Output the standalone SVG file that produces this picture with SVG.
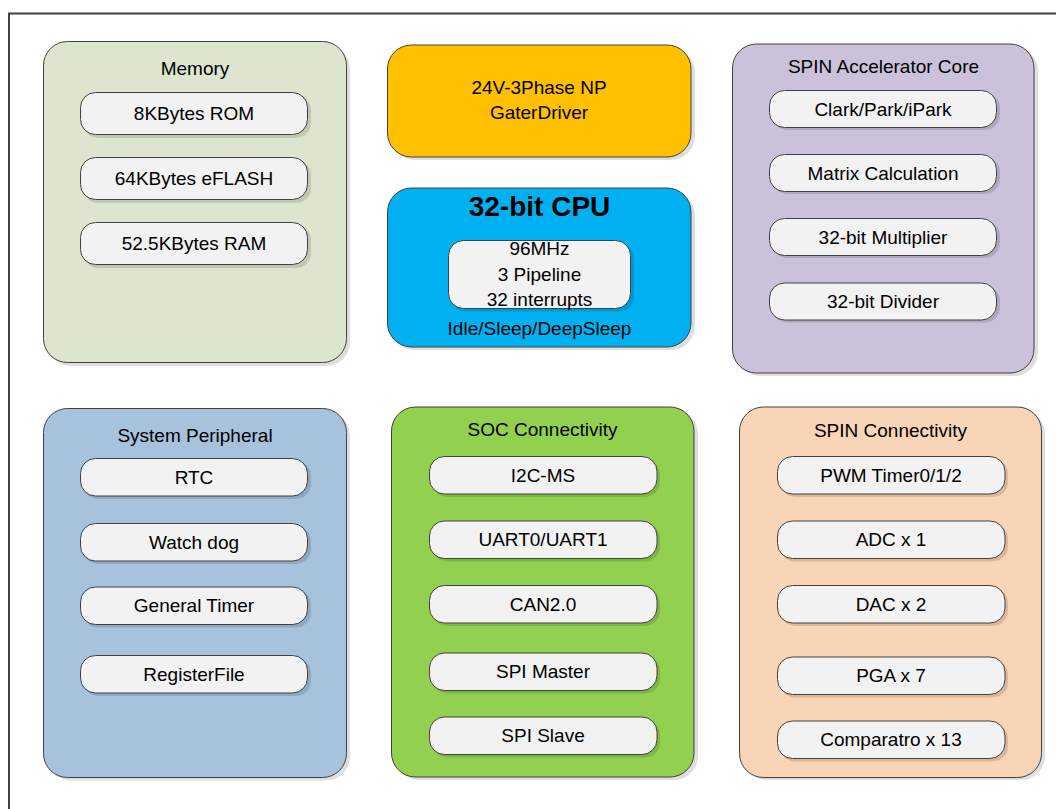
<svg xmlns="http://www.w3.org/2000/svg" width="1056" height="809" viewBox="0 0 1056 809">
<style>
text{font-family:"Liberation Sans",Arial,sans-serif;font-size:19px;fill:#000;text-anchor:middle}
.box{stroke:#404040;stroke-width:1}
.sh{fill:#000;fill-opacity:0.13}
.sub{fill:#F2F2F2;stroke:#404040;stroke-width:1}
.bold{font-weight:bold;font-size:28px}
</style>
<rect x="0" y="0" width="1056" height="809" fill="#fff"/>
<rect x="9" y="13.5" width="1070" height="820" fill="none" stroke="#404040" stroke-width="2"/>

<g id="memory">
<rect class="sh" x="47" y="45" width="303" height="321" rx="24"/>
<rect class="box" x="43.5" y="41.5" width="303" height="321" rx="24" fill="#DEE5CE"/>
<text x="195" y="75">Memory</text>
<rect class="sh" x="83" y="95" width="228" height="43" rx="15"/>
<rect class="sub" x="80.5" y="92.5" width="227" height="42" rx="15"/>
<text x="194" y="120">8KBytes ROM</text>
<rect class="sh" x="83" y="160" width="228" height="43" rx="15"/>
<rect class="sub" x="80.5" y="157.5" width="227" height="42" rx="15"/>
<text x="194" y="185">64KBytes eFLASH</text>
<rect class="sh" x="83" y="225" width="228" height="43" rx="15"/>
<rect class="sub" x="80.5" y="222.5" width="227" height="42" rx="15"/>
<text x="194" y="250">52.5KBytes RAM</text>
</g>

<g id="gatedriver">
<rect class="sh" x="391" y="48" width="304" height="112" rx="24"/>
<rect class="box" x="387.5" y="45" width="303.5" height="112" rx="24" fill="#FFC000"/>
<text x="539" y="94">24V-3Phase NP</text>
<text x="539" y="119">GaterDriver</text>
</g>

<g id="cpu">
<rect class="sh" x="391" y="191" width="304" height="159" rx="24"/>
<rect class="box" x="387.5" y="188" width="303.5" height="159" rx="24" fill="#00B0F0"/>
<text class="bold" x="539.5" y="216">32-bit CPU</text>
<rect class="sh" x="451" y="243.5" width="183" height="68" rx="15"/>
<rect class="sub" x="448.5" y="240.5" width="182" height="68" rx="15"/>
<text x="539.5" y="255">96MHz</text>
<text x="539.5" y="281">3 Pipeline</text>
<text x="539.5" y="306">32 interrupts</text>
<text x="539.5" y="335">Idle/Sleep/DeepSleep</text>
</g>

<g id="spin-accel">
<rect class="sh" x="736" y="47" width="302" height="329" rx="24"/>
<rect class="box" x="732.5" y="44" width="301.5" height="329" rx="24" fill="#CCC1DA"/>
<text x="883.5" y="73">SPIN Accelerator Core</text>
<rect class="sh" x="772" y="93" width="228" height="37" rx="15"/>
<rect class="sub" x="769.5" y="90.5" width="227" height="37" rx="15"/>
<text x="883" y="115.5">Clark/Park/iPark</text>
<rect class="sh" x="772" y="157" width="228" height="37" rx="15"/>
<rect class="sub" x="769.5" y="154.5" width="227" height="37" rx="15"/>
<text x="883" y="179.5">Matrix Calculation</text>
<rect class="sh" x="772" y="221" width="228" height="37" rx="15"/>
<rect class="sub" x="769.5" y="218.5" width="227" height="37" rx="15"/>
<text x="883" y="243.5">32-bit Multiplier</text>
<rect class="sh" x="772" y="285.5" width="228" height="37" rx="15"/>
<rect class="sub" x="769.5" y="283" width="227" height="37" rx="15"/>
<text x="883" y="308">32-bit Divider</text>
</g>

<g id="sys-peripheral">
<rect class="sh" x="47" y="411.5" width="303" height="369" rx="24"/>
<rect class="box" x="43.5" y="408.5" width="303" height="369" rx="24" fill="#A6C2DD"/>
<text x="195" y="442">System Peripheral</text>
<rect class="sh" x="83" y="461" width="228" height="38" rx="15"/>
<rect class="sub" x="80.5" y="458.5" width="227" height="37.5" rx="15"/>
<text x="194" y="483.5">RTC</text>
<rect class="sh" x="83" y="526" width="228" height="38" rx="15"/>
<rect class="sub" x="80.5" y="523.5" width="227" height="37.5" rx="15"/>
<text x="194" y="548.5">Watch dog</text>
<rect class="sh" x="83" y="589.5" width="228" height="38" rx="15"/>
<rect class="sub" x="80.5" y="587" width="227" height="37.5" rx="15"/>
<text x="194" y="612">General Timer</text>
<rect class="sh" x="83" y="658" width="228" height="38" rx="15"/>
<rect class="sub" x="80.5" y="655.5" width="227" height="37.5" rx="15"/>
<text x="194" y="680.5">RegisterFile</text>
</g>

<g id="soc-connectivity">
<rect class="sh" x="395" y="410" width="303" height="370" rx="24"/>
<rect class="box" x="391.5" y="407" width="302.5" height="370" rx="24" fill="#92D050"/>
<text x="542.5" y="436">SOC Connectivity</text>
<rect class="sh" x="432" y="459" width="228" height="38" rx="15"/>
<rect class="sub" x="429.5" y="456.5" width="227.5" height="37.5" rx="15"/>
<text x="543" y="481.5">I2C-MS</text>
<rect class="sh" x="432" y="523.5" width="228" height="38" rx="15"/>
<rect class="sub" x="429.5" y="521" width="227.5" height="37.5" rx="15"/>
<text x="543" y="546">UART0/UART1</text>
<rect class="sh" x="432" y="588" width="228" height="38" rx="15"/>
<rect class="sub" x="429.5" y="585.5" width="227.5" height="37.5" rx="15"/>
<text x="543" y="610.5">CAN2.0</text>
<rect class="sh" x="432" y="655.5" width="228" height="38" rx="15"/>
<rect class="sub" x="429.5" y="653" width="227.5" height="37.5" rx="15"/>
<text x="543" y="678">SPI Master</text>
<rect class="sh" x="432" y="719.5" width="228" height="38" rx="15"/>
<rect class="sub" x="429.5" y="717" width="227.5" height="37.5" rx="15"/>
<text x="543" y="742">SPI Slave</text>
</g>

<g id="spin-connectivity">
<rect class="sh" x="743" y="410" width="302" height="370" rx="24"/>
<rect class="box" x="739.5" y="407" width="302" height="370.5" rx="24" fill="#F8D5B6"/>
<text x="890.5" y="436.5">SPIN Connectivity</text>
<rect class="sh" x="780" y="459" width="228" height="38" rx="15"/>
<rect class="sub" x="777.5" y="456.5" width="227.5" height="37.5" rx="15"/>
<text x="891" y="481.5">PWM Timer0/1/2</text>
<rect class="sh" x="780" y="523.5" width="228" height="38" rx="15"/>
<rect class="sub" x="777.5" y="521" width="227.5" height="37.5" rx="15"/>
<text x="891" y="546">ADC x 1</text>
<rect class="sh" x="780" y="588" width="228" height="38" rx="15"/>
<rect class="sub" x="777.5" y="585.5" width="227.5" height="37.5" rx="15"/>
<text x="891" y="610.5">DAC x 2</text>
<rect class="sh" x="780" y="659.5" width="228" height="38" rx="15"/>
<rect class="sub" x="777.5" y="657" width="227.5" height="37.5" rx="15"/>
<text x="891" y="682">PGA x 7</text>
<rect class="sh" x="780" y="723.5" width="228" height="38" rx="15"/>
<rect class="sub" x="777.5" y="721" width="227.5" height="37.5" rx="15"/>
<text x="891" y="746">Comparatro x 13</text>
</g>

<g id="connectors"></g>
</svg>
